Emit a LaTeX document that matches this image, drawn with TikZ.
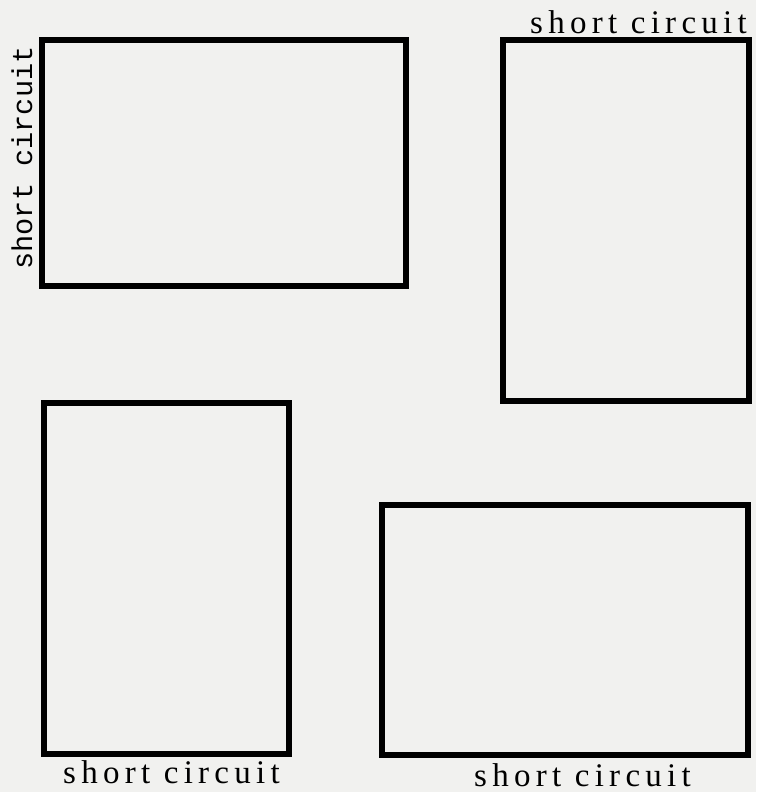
\documentclass[tikz,border=0pt]{standalone}
\usepackage{fontspec}
\setmainfont{Liberation Serif}
\newfontfamily\typewriter{Liberation Mono}
\newfontfamily\spacedserif[LetterSpace=16]{Liberation Serif}
\usepackage{tikz}
\usetikzlibrary{positioning}

\definecolor{paper}{RGB}{241,241,239}

\tikzset{
  circuitbox/.style={draw=black, line width=2.8pt, inner sep=0pt},
  shortlabel/.style={font=\spacedserif\fontsize{16.5}{16.5}\selectfont, inner sep=0pt},
  shortlabeltt/.style={font=\typewriter\fontsize{14.3}{14.3}\selectfont, inner sep=0pt}
}

\begin{document}
\begin{tikzpicture}[x=0.5pt, y=-0.5pt]
  \fill[paper] (0,0) rectangle (756,792);
  \useasboundingbox (0,0) rectangle (756,792);
  % the four boxes
  \node[circuitbox, minimum width=182pt, minimum height=123pt] (boxa) at (224,163) {};
  \node[circuitbox, minimum width=123pt, minimum height=180.5pt] (boxb) at (626,220.5) {};
  \node[circuitbox, minimum width=122.5pt, minimum height=175.5pt] (boxc) at (166.5,578.5) {};
  \node[circuitbox, minimum width=183pt, minimum height=125pt] (boxd) at (565,630) {};
  % labels
  \node[shortlabeltt, rotate=90] (laba) at (22,158) {short circuit};
  \node[shortlabel] (labb) at (638.5,22) {short circuit};
  \node[shortlabel] (labc) at (171.5,772) {short circuit};
  \node[shortlabel] (labd) at (582.5,775) {short circuit};
\end{tikzpicture}
\end{document}
